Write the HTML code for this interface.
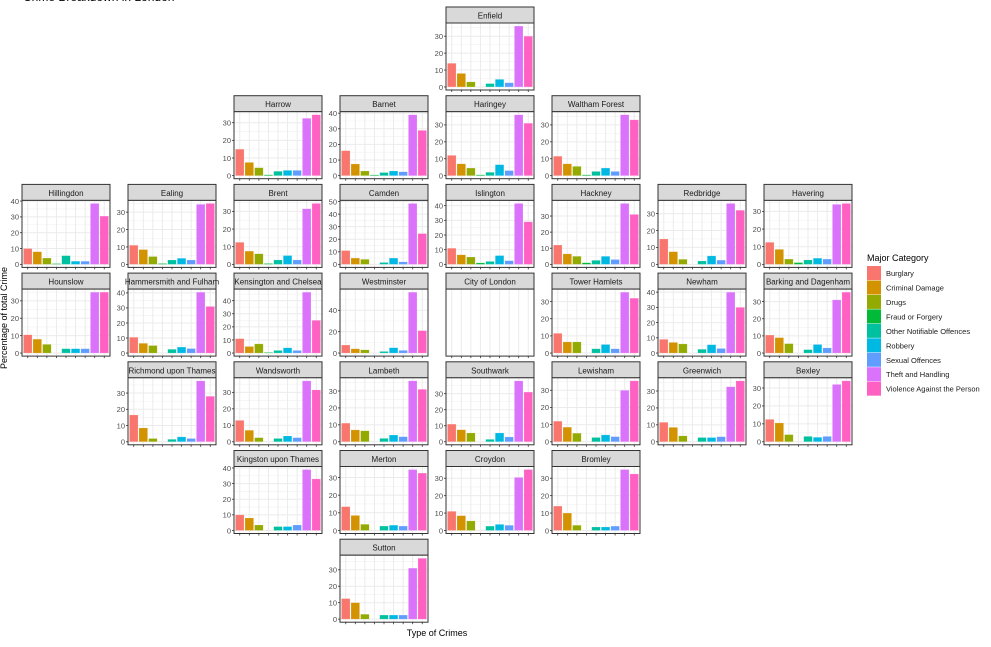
<!DOCTYPE html>
<html><head><meta charset="utf-8">
<style>
html,body{margin:0;padding:0;background:#fff;}
body{width:991px;height:647px;overflow:hidden;position:relative;font-family:"Liberation Sans",sans-serif;}
svg{position:absolute;left:0;top:0;}
</style></head>
<body>
<svg id="chart" width="991" height="647" viewBox="0 0 991 647"></svg>
<script>
const categories = ["Burglary","Criminal Damage","Drugs","Fraud or Forgery","Other Notifiable Offences","Robbery","Sexual Offences","Theft and Handling","Violence Against the Person"];
const colors = ["#F8766D","#D39200","#93AA00","#00BA38","#00C19F","#00B9E3","#619CFF","#DB72FB","#FF61C3"];
const boroughs = ["Enfield","Harrow","Barnet","Haringey","Waltham Forest","Hillingdon","Ealing","Brent","Camden","Islington","Hackney","Redbridge","Havering","Hounslow","Hammersmith and Fulham","Kensington and Chelsea","Westminster","City of London","Tower Hamlets","Newham","Barking and Dagenham","Richmond upon Thames","Wandsworth","Lambeth","Southwark","Lewisham","Greenwich","Bexley","Kingston upon Thames","Merton","Croydon","Bromley","Sutton"];
const gridRow = [0,1,1,1,1,2,2,2,2,2,2,2,2,3,3,3,3,3,3,3,3,4,4,4,4,4,4,4,5,5,5,5,6];
const gridCol = [4,2,3,4,5,0,1,2,3,4,5,6,7,0,1,2,3,4,5,6,7,1,2,3,4,5,6,7,2,3,4,5,3];
const burglary = [14,15,16,12,11.5,10,11,12.5,11,11,12,15,12.5,10.5,10.5,11,7.5,null,11.5,9,10.5,16.5,13,11,11,12,11.5,12.5,10,13.5,11,14,12.5];
const criminalDamage = [8,7.5,7.5,7,7,8,8.5,7.5,5,6.5,6.5,7.5,8.5,8,6.5,5,4,null,6.5,7,9,8.5,7,7,7.5,8.5,8.5,10.5,8,8.5,8.5,10,10];
const drugs = [3,4.5,3,4.5,5.5,4,4.5,6,4,5,5,3,3,5,5,7,3,null,6.5,6,5.5,2,2.5,6.5,5.5,5,3.5,4,3.5,3.5,5.5,3,3];
const fraud = [0,0.5,0.5,0.5,0.5,0.5,0.5,0.5,0,1,1,0,1,0,0,0.5,0,null,0,0,0,0,0,0,0,0,0,0,0,0,0,0,0];
const otherOffences = [2,2.5,2,2,2.5,5.5,2.5,2.5,1.5,2,2.5,2,2.5,2.5,2.5,2,1.5,null,2.5,2.5,2,1.5,2,2,1.5,2.5,2.5,3,2.5,2.5,2.5,2,2.5];
const robbery = [4.5,3,3,6.5,4.5,2,3.5,5,5,6,5,5,3.5,2.5,4,4,5,null,5,5.5,5,3,3.5,4,5.5,4,2.5,2.5,2.5,3,3.5,2,2.5];
const sexual = [2.5,3,2.5,3,2.5,2,2.5,2.5,2,2.5,3,2.5,3,2.5,3,2,2.5,null,2.5,3,3,2,2.5,3,3,3,3,3,3.5,2.5,3,2.5,2.5];
const theft = [36,32.5,39,36,36,38.5,34.5,31.5,48.5,41.5,37.8,36,34,35,40.5,46.5,57,null,35.5,40,31,37.5,37,36,38,30,32.5,32,39,34.5,30.5,35,31];
const violence = [30,34.5,29,31,33,30.5,35,34.5,24.5,29,31,32,34.5,35,31,25,21,null,32,30,35.5,28,31.5,31,31,35.5,36,34,33,32.5,35,32.5,37];

const NS="http://www.w3.org/2000/svg";
const svg=document.getElementById('chart');
function mk(tag,attrs,parent){const e=document.createElementNS(NS,tag);for(const k in attrs)e.setAttribute(k,attrs[k]);(parent||svg).appendChild(e);return e;}

const title=mk('text',{x:23,y:1,'font-size':12,fill:'#000'});
title.textContent='Crime Breakdown in London';



const colX0=22, colPitch=106, panelW=88, rowY0=7, rowPitch=88.7, stripH=16, plotH=67;
const series=[burglary,criminalDamage,drugs,fraud,otherOffences,robbery,sexual,theft,violence];

boroughs.forEach((name,i)=>{
  const g=mk('g',{});
  
  
  const x0=colX0+gridCol[i]*colPitch, y0=rowY0+gridRow[i]*rowPitch;
  const py0=y0+stripH, py1=py0+plotH;
  const strip=mk('rect',{x:x0,y:y0,width:panelW,height:stripH,fill:'#D9D9D9',stroke:'#333','stroke-width':1},g);
  
  
  const st=mk('text',{x:x0+panelW/2,y:y0+11.5,'text-anchor':'middle','font-size':8,fill:'#1a1a1a'},g);
  st.textContent=name;
  
  
  mk('rect',{x:x0,y:py0,width:panelW,height:plotH,fill:'#fff'},g);
  const vals=series.map(s=>s[i]);
  const hasData=vals[0]!==null;
  const m=hasData?Math.max(...vals):1;
  const lo=-0.05*m, hi=1.05*m;
  const yS=v=>py1-(v-lo)/(hi-lo)*plotH;
  const n=categories.length, unit=panelW/(n-1+1.2);
  const xS=k=>x0+unit*(0.6+k);
  const step=m>50?20:10;
  if(hasData){
    for(let t=step/2;t<hi;t+=step){mk('line',{x1:x0,x2:x0+panelW,y1:yS(t),y2:yS(t),stroke:'#F2F2F2','stroke-width':0.6},g);}
    for(let t=0;t<=hi;t+=step){
      mk('line',{x1:x0,x2:x0+panelW,y1:yS(t),y2:yS(t),stroke:'#EBEBEB','stroke-width':1},g);
      mk('line',{x1:x0-2,x2:x0,y1:yS(t),y2:yS(t),stroke:'#333','stroke-width':0.8},g);
      const tl=mk('text',{x:x0-3,y:yS(t)+2.8,'text-anchor':'end','font-size':7.5,fill:'#4d4d4d'},g);
      tl.textContent=t;
      
      
    }
  }
  for(let k=0;k<n;k++){mk('line',{x1:xS(k),x2:xS(k),y1:py0,y2:py1,stroke:'#EBEBEB','stroke-width':1},g);}
  if(hasData){
    vals.forEach((v,k)=>{
      if(v<=0)return;
      const b=mk('rect',{x:xS(k)-unit*0.45,width:unit*0.9,y:yS(v),height:yS(0)-yS(v),fill:colors[k],stroke:'#ffffff','stroke-opacity':0.35,'stroke-width':0.5},g);
      
      
    });
  }
  mk('rect',{x:x0,y:py0,width:panelW,height:plotH,fill:'none',stroke:'#333','stroke-width':1},g);
  for(let k=0;k<n;k++){mk('line',{x1:xS(k),x2:xS(k),y1:py1,y2:py1+2,stroke:'#333','stroke-width':0.8},g);}
});

const yt=mk('text',{x:0,y:0,'font-size':9,fill:'#000','text-anchor':'middle',transform:'translate(7,318) rotate(-90)'});
yt.textContent='Percentage of total Crime';


const xt=mk('text',{x:437,y:636,'font-size':9,fill:'#000','text-anchor':'middle'});
xt.textContent='Type of Crimes';



const lg=mk('g',{});


const lt=mk('text',{x:867,y:261,'font-size':9,fill:'#000'},lg);
lt.textContent='Major Category';


categories.forEach((c,k)=>{
  const y=266+k*14.46;
  const e=mk('g',{},lg);
  
  
  mk('rect',{x:867,y:y,width:14,height:14,fill:colors[k]},e);
  const t=mk('text',{x:886,y:y+10,'font-size':7.5,fill:'#1a1a1a'},e);
  t.textContent=c;
});
</script>
</body></html>
